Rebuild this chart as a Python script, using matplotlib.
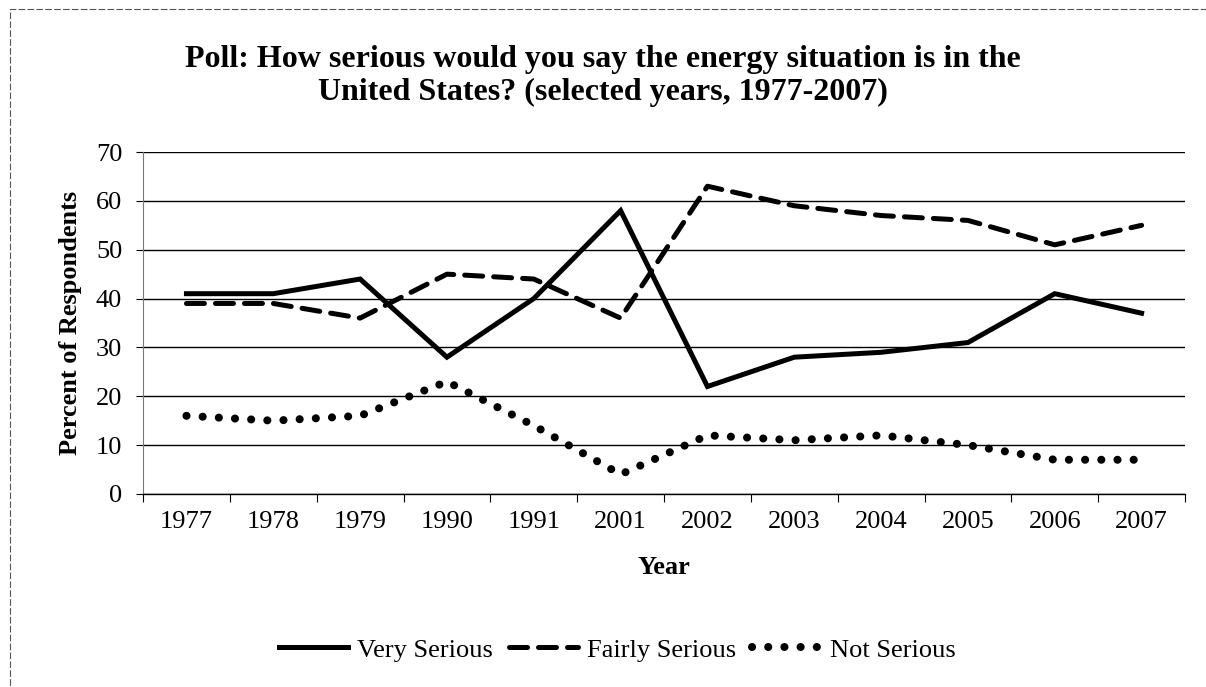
import matplotlib
matplotlib.use("Agg")
import matplotlib.pyplot as plt
from matplotlib.patches import Rectangle

years = ["1977", "1978", "1979", "1990", "1991", "2001",
         "2002", "2003", "2004", "2005", "2006", "2007"]
very_serious = [41, 41, 44, 28, 40, 58, 22, 28, 29, 31, 41, 37]
fairly_serious = [39, 39, 36, 45, 44, 36, 63, 59, 57, 56, 51, 55]
not_serious = [16, 15, 16, 23, 14, 4, 12, 11, 12, 10, 7, 7]

plt.rcParams["font.family"] = ["Liberation Serif", "DejaVu Serif"]

fig = plt.figure(figsize=(12.06, 6.87), dpi=100)
ax = fig.add_axes([0.1186, 0.281, 0.864, 0.4977])

x = list(range(len(years)))
ax.plot(x, very_serious, color="black", lw=3.6, solid_joinstyle="miter",
        label="Very Serious")
ax.plot(x, fairly_serious, color="black", lw=3.6, linestyle=(0, (3.6, 2.2)),
        dash_capstyle="round", label="Fairly Serious")
ax.plot(x, not_serious, color="black", lw=5.8, linestyle=(0, (0.01, 2.0)),
        dash_capstyle="round", label="Not Serious")

ax.set_xlim(-0.5, len(years) - 0.5)
ax.set_ylim(0, 70)
ax.set_yticks(range(0, 71, 10))
ax.set_xticks(x)
ax.set_xticklabels(years)
ax.set_xticks([i - 0.5 for i in range(len(years) + 1)], minor=True)
ax.tick_params(axis="x", which="major", length=0, labelsize=19, pad=12)
ax.tick_params(axis="x", which="minor", length=6, width=0.8, direction="out")
ax.tick_params(axis="y", length=5, width=0.8, labelsize=19, pad=10)
ax.grid(axis="y", color="black", lw=1.0)
ax.set_axisbelow(True)

for s in ["top", "right"]:
    ax.spines[s].set_visible(False)
ax.spines["left"].set_color("#777777")
ax.spines["left"].set_linewidth(0.8)
ax.spines["bottom"].set_linewidth(1.0)

ax.set_xlabel("Year", fontsize=19, fontweight="bold", labelpad=17)
ax.set_ylabel("Percent of Respondents", fontsize=19, fontweight="bold", labelpad=10)
fig.text(0.5, 0.935, "Poll: How serious would you say the energy situation is in the\n"
         "United States? (selected years, 1977-2007)",
         ha="center", va="top", fontsize=23, fontweight="bold", linespacing=1.2)

fig.legend(loc="center", bbox_to_anchor=(0.512, 0.054), ncol=3, frameon=False,
           fontsize=19, handlelength=2.6, handletextpad=0.35, columnspacing=0.6)

fig.patches.append(Rectangle((0.008, -0.01), 1.0, 0.997, transform=fig.transFigure,
                             fill=False, edgecolor="#555555", lw=0.8,
                             linestyle=(0, (6, 2))))

fig.savefig("out.png", dpi=100)
